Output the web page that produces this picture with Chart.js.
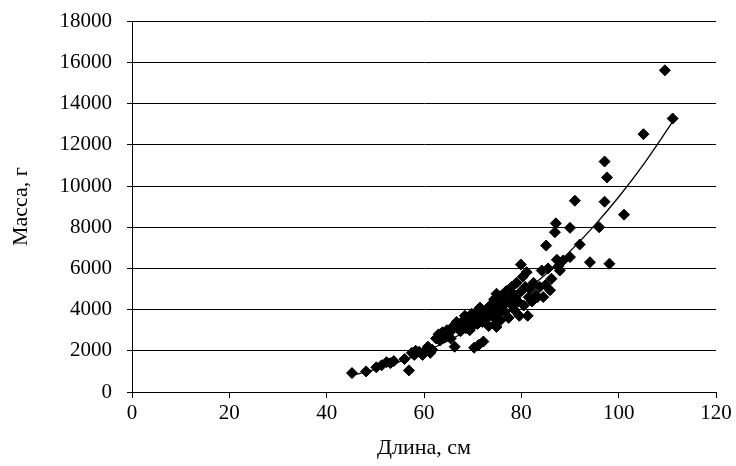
<!DOCTYPE html>
<html>
<head>
<meta charset="utf-8">
<script src="https://cdn.jsdelivr.net/npm/chart.js@4/dist/chart.umd.min.js"></script>
<style>
  html, body { margin: 0; padding: 0; background: #fff; }
  #wrap { width: 736px; height: 466px; }
</style>
</head>
<body>
<div id="wrap"><canvas id="c" width="736" height="466"></canvas></div>
<script>
// Observed fish: length (cm) and mass (g)
const lengths = [45.2, 48.1, 50.2, 51.3, 52.3, 53.1, 53.8, 56.0, 56.9, 57.5, 58.0, 58.3, 59.0, 59.7, 60.2, 60.8, 61.3, 61.7,
  62.5, 63.0, 63.3, 63.8, 64.3, 64.7, 65.3, 65.5, 66.0, 66.3, 66.7, 67.0, 67.5, 67.9, 68.2, 68.4, 68.6, 69.0, 69.3, 69.4, 69.8,
  70.0, 70.3, 70.5, 70.8, 71.0, 71.3, 71.5, 71.8, 72.0, 72.2, 72.5, 72.8, 73.0, 73.3, 73.6, 73.9, 74.2, 74.4, 74.7, 74.9, 74.9,
  75.0, 75.3, 75.6, 75.8, 76.0, 76.3, 76.6, 76.9, 77.1, 77.4, 77.7, 78.0, 78.2, 78.5, 78.8, 79.0, 79.3, 79.6, 79.9, 80.0,
  80.3, 80.5, 80.8, 81.1, 81.3, 81.5, 81.8, 82.2, 82.5, 83.0, 83.3, 83.8, 84.2, 84.5, 85.0, 85.1, 85.5, 85.9, 86.2, 86.9,
  87.1, 87.3, 87.6, 87.9, 88.6, 90.0, 90.0, 91.0, 92.0, 94.1, 96.0, 97.1, 97.1, 97.6, 98.1, 101.1, 105.1, 109.5, 111.1];
const masses = [920, 1000, 1200, 1300, 1450, 1400, 1500, 1600, 1050, 1900, 1800, 2000, 1950, 1800, 2000, 2200, 1900, 2050,
  2600, 2800, 2500, 2900, 2700, 3000, 2900, 2600, 3200, 2200, 3400, 3100, 2950, 3300, 3500, 3700, 3100, 3300, 3600, 3000, 3800,
  3200, 2150, 3500, 3900, 3300, 2300, 4100, 3600, 3400, 2450, 3800, 4000, 3600, 3200, 4200, 3900, 3640, 4500, 3300, 4770, 3160,
  4100, 3800, 4400, 3500, 4700, 4200, 3900, 4900, 4500, 3600, 4300, 5100, 4800, 4000, 4600, 5300, 4400, 3700, 6190, 4900,
  5600, 4200, 5100, 5820, 3700, 4600, 5000, 4400, 5300, 4700, 4600, 5100, 5900, 4610, 5200, 7110, 6000, 4940, 5500, 7760,
  8190, 6420, 6100, 5900, 6390, 6550, 7970, 9290, 7160, 6300, 8000, 9240, 11190, 10420, 6230, 8610, 12520, 15620, 13280];

// Trend curve
const trendLengths = [45, 50, 55, 60, 65, 70, 75, 80, 85, 90, 95, 100, 105, 111];
const trendMasses = [800, 1100, 1480, 1940, 2490, 3130, 3880, 4740, 5720, 6830, 8080, 9470, 11020, 13090];

const xTicks = [0, 20, 40, 60, 80, 100, 120];
const yTicks = [0, 2000, 4000, 6000, 8000, 10000, 12000, 14000, 16000, 18000];

const points = lengths.map((x, i) => ({ x: x, y: masses[i] }));
const trend = trendLengths.map((x, i) => ({ x: x, y: trendMasses[i] }));

const FAMILY = '"Liberation Serif", "Times New Roman", serif';
const X_TICK_FONT = { family: FAMILY, size: 21 };
const Y_TICK_FONT = { family: FAMILY, size: 21, lineHeight: 0.6 };
const TITLE_FONT = { family: FAMILY, size: 22 };

new Chart(document.getElementById('c'), {
  type: 'scatter',
  data: {
    datasets: [
      {
        type: 'line',
        data: trend,
        borderColor: '#000',
        borderWidth: 1.3,
        pointRadius: 0,
        fill: false,
        tension: 0.4,
        cubicInterpolationMode: 'monotone',
        order: 2
      },
      {
        data: points,
        pointStyle: 'rectRot',
        pointRadius: 5.5,
        backgroundColor: '#000',
        borderColor: '#000',
        borderWidth: 1,
        order: 1
      }
    ]
  },
  options: {
    responsive: false,
    animation: false,
    devicePixelRatio: 1,
    layout: { padding: { top: 20, right: 20, bottom: 5, left: 0 } },
    plugins: { legend: { display: false }, tooltip: { enabled: false } },
    scales: {
      x: {
        type: 'linear',
        min: 0, max: 120,
        afterBuildTicks: s => { s.ticks = xTicks.map(v => ({ value: v })); },
        afterFit: s => { s.height = 69; },
        grid: { drawOnChartArea: false, drawTicks: true, tickLength: 6, color: '#000', lineWidth: 1 },
        border: { color: '#000', width: 1 },
        ticks: { color: '#000', font: X_TICK_FONT, padding: 3, maxRotation: 0, callback: v => String(v) },
        title: { display: true, text: 'Длина, см', color: '#000', font: TITLE_FONT, padding: { top: 4, bottom: 0 } }
      },
      y: {
        type: 'linear',
        min: 0, max: 18000,
        afterBuildTicks: s => { s.ticks = yTicks.map(v => ({ value: v })); },
        afterFit: s => { s.width = 132; },
        grid: { drawOnChartArea: true, drawTicks: true, tickLength: 5, color: '#000', lineWidth: 1 },
        border: { color: '#000', width: 1 },
        ticks: { color: '#000', font: Y_TICK_FONT, padding: 15, callback: v => String(v) },
        title: { display: true, text: 'Масса, г', color: '#000', font: TITLE_FONT, padding: { top: 8, bottom: 0 } }
      }
    }
  }
});
</script>
</body>
</html>
